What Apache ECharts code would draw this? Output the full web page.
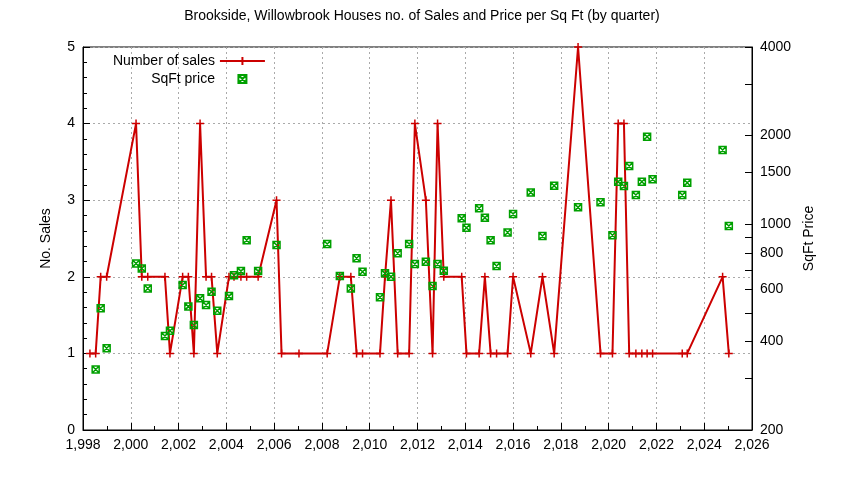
<!DOCTYPE html>
<html><head><meta charset="utf-8">
<script src="https://cdn.jsdelivr.net/npm/echarts@6/dist/echarts.min.js"></script>
<style>html,body{margin:0;background:#fff}#c{width:844px;height:480px}</style>
</head><body><div id="c"></div>
<script>
const salesYears=[1998.29,1998.53,1998.74,1998.99,2000.22,2000.46,2000.71,2001.43,2001.64,2002.17,2002.41,2002.64,2002.90,2003.15,2003.38,2003.62,2004.11,2004.32,2004.61,2004.85,2005.33,2006.10,2006.31,2007.04,2008.22,2008.75,2009.21,2009.45,2009.70,2010.43,2010.64,2010.89,2011.17,2011.65,2011.89,2012.35,2012.63,2012.84,2013.10,2013.85,2014.05,2014.58,2014.82,2015.06,2015.31,2015.77,2016.00,2016.74,2017.23,2017.72,2018.72,2019.66,2020.16,2020.40,2020.64,2020.86,2021.14,2021.39,2021.61,2021.84,2023.08,2023.29,2024.77,2025.03];
const salesCount=[1,1,2,2,4,2,2,2,1,2,2,1,4,2,2,1,2,2,2,2,2,3,1,1,1,2,2,1,1,1,2,3,1,1,4,3,1,4,2,2,1,1,2,1,1,1,2,1,2,1,5,1,1,4,4,1,1,1,1,1,1,1,2,1];
const priceYears=[1998.53,1998.74,1998.99,2000.22,2000.46,2000.71,2001.43,2001.64,2002.17,2002.41,2002.64,2002.90,2003.15,2003.38,2003.62,2004.11,2004.32,2004.61,2004.85,2005.33,2006.10,2008.22,2008.75,2009.21,2009.45,2009.70,2010.43,2010.64,2010.89,2011.17,2011.65,2011.89,2012.35,2012.63,2012.84,2013.10,2013.85,2014.05,2014.58,2014.82,2015.06,2015.31,2015.77,2016.00,2016.74,2017.23,2017.72,2018.72,2019.66,2020.16,2020.40,2020.64,2020.86,2021.14,2021.39,2021.61,2021.84,2023.08,2023.29,2024.77,2025.03];
const priceSqft=[321,518,379,736,708,605,417,435,622,525,455,560,532,590,508,570,671,693,883,693,850,857,667,605,766,690,565,681,663,797,857,733,746,617,733,695,1047,973,1133,1052,883,721,938,1084,1283,912,1352,1141,1188,918,1394,1348,1577,1257,1394,1982,1422,1257,1384,1786,986];
const priceLabels=[200,400,600,800,1000,1500,2000,4000];
const priceTicks=[200,300,400,500,600,700,800,900,1000,1500,2000,3000,4000];
const L=Math.log10;
const font='Liberation Sans';
const chart=echarts.init(document.getElementById('c'));
chart.setOption({
  animation:false,
  textStyle:{fontFamily:font},
  title:{text:'Brookside, Willowbrook Houses no. of Sales and Price per Sq Ft (by quarter)',left:'center',top:4,textStyle:{fontSize:14,fontWeight:'normal',color:'#000',fontFamily:font}},
  legend:{orient:'vertical',left:108,top:49,align:'right',itemWidth:45,itemHeight:10,itemGap:4,textStyle:{fontSize:14,color:'#000',fontFamily:font},
    data:['Number of sales','SqFt price']},
  grid:{left:83,right:92,top:47,bottom:50,show:true,borderColor:'#000',borderWidth:1},
  xAxis:{type:'value',min:1998,max:2026,interval:2,
    axisLine:{lineStyle:{color:'#000'}},axisTick:{inside:true,length:7,lineStyle:{color:'#000'}},
    minorTick:{show:true,splitNumber:2,length:4,lineStyle:{color:'#000'}},
    axisLabel:{color:'#000',fontSize:14,fontFamily:font},
    splitLine:{show:true,lineStyle:{color:'#aaa',type:[2,3]}}},
  yAxis:[
    {type:'value',min:0,max:5,interval:1,name:'No. Sales',nameLocation:'middle',nameGap:30,nameTextStyle:{fontSize:14,color:'#000',fontFamily:font},
     axisLine:{show:true,lineStyle:{color:'#000'}},axisTick:{inside:true,length:7,lineStyle:{color:'#000'}},
     minorTick:{show:true,splitNumber:5,length:4,lineStyle:{color:'#000'}},
     axisLabel:{color:'#000',fontSize:14,fontFamily:font},
     splitLine:{show:true,lineStyle:{color:'#aaa',type:[2,3]}}},
    {type:'value',min:L(200),max:L(4000),name:'SqFt Price',nameLocation:'middle',nameGap:48,nameTextStyle:{fontSize:14,color:'#000',fontFamily:font},
     axisLine:{show:true,lineStyle:{color:'#000'}},
     axisTick:{inside:true,length:7,customValues:priceTicks.map(L),lineStyle:{color:'#000'}},
     axisLabel:{color:'#000',fontSize:14,fontFamily:font,customValues:priceLabels.map(L),formatter:v=>String(Math.round(Math.pow(10,v)))},
     splitLine:{show:false}}
  ],
  series:[
    {name:'Number of sales',type:'line',yAxisIndex:0,data:salesYears.map((y,i)=>[y,salesCount[i]]),
     color:'#cc0000',lineStyle:{width:2},symbol:'path://M0,5L10,5M5,0L5,10',symbolSize:8,
     itemStyle:{color:'#cc0000',borderColor:'#cc0000',borderWidth:1.5}},
    {name:'SqFt price',type:'line',yAxisIndex:1,data:priceYears.map((y,i)=>[y,L(priceSqft[i])]),
     color:'#00a000',lineStyle:{width:2},symbol:'path://M0,0L10,10M0,10L10,0M0,0L10,0L10,10L0,10Z',symbolSize:7,
     itemStyle:{color:'none',borderColor:'#00a000',borderWidth:1.5}}
  ]
});
</script></body></html>
